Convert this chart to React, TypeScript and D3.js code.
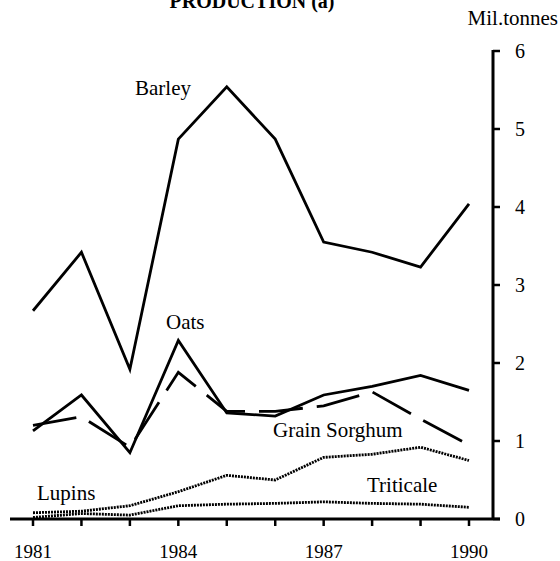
import React from "react";
import * as d3 from "d3";

const years = [1981, 1982, 1983, 1984, 1985, 1986, 1987, 1988, 1989, 1990];
const barley = [2.67, 3.42, 1.92, 4.87, 5.54, 4.87, 3.55, 3.42, 3.23, 4.04];
const oats = [1.13, 1.59, 0.85, 2.29, 1.36, 1.32, 1.59, 1.7, 1.84, 1.65];
const sorghum = [1.2, 1.31, 0.92, 1.88, 1.38, 1.38, 1.45, 1.63, 1.28, 0.95];
const lupins = [0.08, 0.1, 0.17, 0.35, 0.56, 0.5, 0.79, 0.83, 0.92, 0.75];
const triticale = [0.02, 0.07, 0.05, 0.17, 0.19, 0.2, 0.22, 0.2, 0.19, 0.15];
const yTicks = [0, 1, 2, 3, 4, 5, 6];
const yearLabels = [1981, 1984, 1987, 1990];

const W = 560;
const H = 561;
const font = "'Liberation Serif', 'Times New Roman', serif";

export default function App() {
  const x = d3.scaleLinear().domain([1981, 1990]).range([33, 469]);
  const y = d3.scaleLinear().domain([0, 6]).range([519, 51]);
  const line = d3
    .line<number>()
    .x((_, i) => x(years[i]))
    .y((d) => y(d));

  const series = [
    { data: barley, dash: "none", w: 2.8 },
    { data: oats, dash: "none", w: 2.8 },
    { data: sorghum, dash: "44,14", w: 2.8 },
    { data: lupins, dash: "2,1", w: 2.8 },
    { data: triticale, dash: "2,1", w: 2.8 },
  ];

  const axisX = 493;
  const labels = [
    { t: "Barley", x: 135, y: 95 },
    { t: "Oats", x: 166, y: 329 },
    { t: "Grain Sorghum", x: 273, y: 437 },
    { t: "Triticale", x: 367, y: 492 },
    { t: "Lupins", x: 37, y: 500 },
  ];

  return (
    <svg
      width={W}
      height={H}
      style={{ position: "absolute", left: 0, top: 0, background: "#fff" }}
      fontFamily={font}
    >
      <rect width={W} height={H} fill="#fff" />
      <text x={252} y={8} textAnchor="middle" fontSize={20} fontWeight="bold">
        PRODUCTION (a)
      </text>
      <text x={558} y={25} textAnchor="end" fontSize={21}>
        Mil.tonnes
      </text>
      {/* axes */}
      <line x1={10} x2={axisX + 7} y1={y(0)} y2={y(0)} stroke="#000" strokeWidth={3} />
      <line x1={axisX} x2={axisX} y1={y(6) - 1} y2={y(0)} stroke="#000" strokeWidth={3} />
      {yTicks.map((t) => (
        <g key={t}>
          <line x1={axisX} x2={axisX + 7} y1={y(t)} y2={y(t)} stroke="#000" strokeWidth={2.5} />
          <text x={515} y={y(t) + 7} fontSize={20}>
            {t}
          </text>
        </g>
      ))}
      {years.map((yr) => (
        <line key={yr} x1={x(yr)} x2={x(yr)} y1={y(0)} y2={y(0) + 7} stroke="#000" strokeWidth={2.5} />
      ))}
      {yearLabels.map((yr) => (
        <text key={yr} x={x(yr)} y={558} textAnchor="middle" fontSize={19}>
          {yr}
        </text>
      ))}
      {series.map((s, i) => (
        <path
          key={i}
          d={line(s.data) || ""}
          fill="none"
          stroke="#000"
          strokeWidth={s.w}
          strokeDasharray={s.dash}
          strokeLinejoin="miter"
        />
      ))}
      {labels.map((l) => (
        <text key={l.t} x={l.x} y={l.y} fontSize={21}>
          {l.t}
        </text>
      ))}
    </svg>
  );
}
